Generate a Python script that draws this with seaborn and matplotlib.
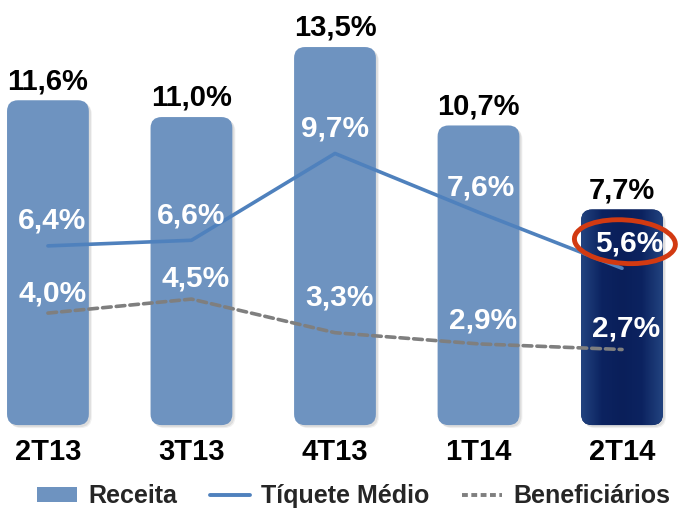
import numpy as np
import pandas as pd
import seaborn as sns
from matplotlib import pyplot as plt
from matplotlib.patches import FancyBboxPatch, Ellipse, Patch
from matplotlib.lines import Line2D
from matplotlib.colors import LinearSegmentedColormap

periodos = ['2T13', '3T13', '4T13', '1T14', '2T14']
receita = [11.6, 11.0, 13.5, 10.7, 7.7]
tiquete = [6.4, 6.6, 9.7, 7.6, 5.6]
benef = [4.0, 4.5, 3.3, 2.9, 2.7]

cor_barra = '#6E93C0'
cor_destaque = '#0C2563'
cor_linha = '#4F81BD'
cor_benef = '#7F7F7F'

sns.set_style('white')
plt.rcParams['font.family'] = ['Liberation Sans', 'DejaVu Sans']

df = pd.DataFrame({'periodo': periodos, 'receita': receita})
fig = plt.figure(figsize=(6.78, 5.08), dpi=100)
ax = fig.add_axes([0, 0, 1, 1])

sns.barplot(data=df, x='periodo', y='receita', hue='periodo',
            palette=[cor_barra] * 4 + [cor_destaque], width=0.57,
            saturation=1, legend=False, ax=ax)

ax.set_xlim(-0.334, 4.39)
ax.set_ylim(-2.96, 15.18)

# swap plain bars for rounded ones
px_x = 678 / (4.39 + 0.334)
px_y = 508 / (15.18 + 2.96)
r = 11 / px_x
grad = LinearSegmentedColormap.from_list('g', ['#22437F', '#0C2360', '#0A1F5A', '#0C2360', '#22437F'])
for k, p in enumerate(list(ax.patches)):
    x0, w, h = p.get_x(), p.get_width(), p.get_height()
    fc = p.get_facecolor()
    p.remove()
    for s, a in [(3, 0.06), (2, 0.08)]:
        sh = FancyBboxPatch((x0 + s / px_x, -s / px_y), w, h,
                            boxstyle=f'round,pad=0,rounding_size={r}',
                            mutation_aspect=px_x / px_y, fc='#000000', alpha=a,
                            ec='none', zorder=1)
        ax.add_patch(sh)
    box = FancyBboxPatch((x0, 0), w, h,
                         boxstyle=f'round,pad=0,rounding_size={r}',
                         mutation_aspect=px_x / px_y, fc=fc, ec='none', zorder=2)
    ax.add_patch(box)
    if k == len(periodos) - 1:
        im = ax.imshow(np.linspace(0, 1, 64).reshape(1, -1), cmap=grad,
                       extent=(x0, x0 + w, 0, h), aspect='auto', zorder=2.1)
        im.set_clip_path(box)

ax.set_xlim(-0.334, 4.39)
ax.set_ylim(-2.96, 15.18)

pos = np.arange(len(periodos))
sns.lineplot(x=pos, y=tiquete, color=cor_linha, lw=2.6, ax=ax, zorder=3)
sns.lineplot(x=pos, y=benef, color=cor_benef, lw=2.6, ax=ax, zorder=3,
             linestyle=(0, (2.4, 1.4)), dash_capstyle='round')

fs = 21
for i, v in enumerate(receita):
    ax.text(i, v + 0.4, f'{v:.1f}%'.replace('.', ','), ha='center', va='baseline',
            fontsize=fs, fontweight='bold', color='black', zorder=5)
    ax.text(i, -0.95, periodos[i], ha='center', va='center',
            fontsize=fs, fontweight='bold', color='black')

dx_t = [0.03, 0.0, 0.0, 0.02, 0.05]
for i, v in enumerate(tiquete):
    ax.text(i + dx_t[i], v + 0.9, f'{v:.1f}%'.replace('.', ','), ha='center', va='center',
            fontsize=fs + 0.5, fontweight='bold', color='white', zorder=5)

off_b = [0.7, 0.75, 1.25, 0.85, 0.75]
for i, v in enumerate(benef):
    ax.text(i + 0.03, v + off_b[i], f'{v:.1f}%'.replace('.', ','), ha='center', va='center',
            fontsize=fs + 0.5, fontweight='bold', color='white', zorder=5)

ax.add_patch(Ellipse((4.02, tiquete[4] + 0.95), 100 / px_x, 44 / px_y, angle=4,
                     fill=False, ec='#D23A12', lw=3.5, zorder=6))

ax.axis('off')

handles = [Patch(fc=cor_barra, ec='none'),
           Line2D([], [], color=cor_linha, lw=2.8),
           Line2D([], [], color=cor_benef, lw=2.8, linestyle=(0, (1.5, 0.9)))]
fig.legend(handles, ['Receita', 'Tíquete Médio', 'Beneficiários'], ncol=3,
           loc='center left', bbox_to_anchor=(37 / 678, 1 - 496 / 508),
           frameon=False, borderpad=0, borderaxespad=0,
           prop={'size': 18, 'weight': 'bold'}, handlelength=1.6,
           handleheight=0.55, columnspacing=1.3, handletextpad=0.45)

fig.savefig('out.png', dpi=100)
